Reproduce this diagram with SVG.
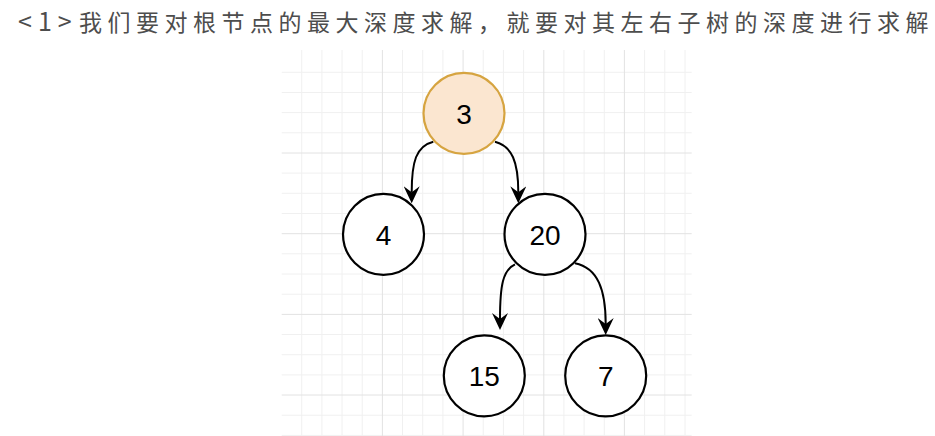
<svg xmlns="http://www.w3.org/2000/svg" width="935" height="436" viewBox="0 0 935 436">
<style>
.title{font-family:"Noto Sans CJK SC","Noto Sans",sans-serif;font-size:23px;fill:#4d4d4d;letter-spacing:5.5px}
.minor{stroke:#f0f0f0;stroke-width:1;fill:none}
.major{stroke:#e2e2e2;stroke-width:1;fill:none}
.node circle{fill:#fff;stroke:#000;stroke-width:2.2}
.node text{font-family:"Liberation Sans",Arial,sans-serif;font-size:28px;fill:#000;text-anchor:middle;dominant-baseline:central}
#n3 circle{fill:#fbe6d0;stroke:#d6a440}
.edge{fill:none;stroke:#000;stroke-width:2}
</style>
<defs>
<marker id="arr" viewBox="0 0 17 16" refX="6" refY="8" markerWidth="17" markerHeight="16" markerUnits="userSpaceOnUse" orient="auto">
<path d="M0,0 L17,8 L0,16 L6,8 Z" fill="#000"/>
</marker>
</defs>
<rect width="935" height="436" fill="#fff"/>
<text class="title" y="31"><tspan x="18" style="font-size:25px;letter-spacing:6px">&lt;1&gt;</tspan><tspan x="79">我们要对根节点的最大深度求解，就要对其左右子树的深度进行求解</tspan></text>
<g id="grid">
<path class="minor" d="M301.7,50V436M321.9,50V436M342,50V436M362.2,50V436M402.5,50V436M422.7,50V436M442.9,50V436M483.2,50V436M503.4,50V436M523.6,50V436M563.9,50V436M584.1,50V436M604.3,50V436M644.6,50V436M664.8,50V436M685,50V436M281.7,72.3H691.7M281.7,92.5H691.7M281.7,112.6H691.7M281.7,132.8H691.7M281.7,173.1H691.7M281.7,193.3H691.7M281.7,213.5H691.7M281.7,253.8H691.7M281.7,274H691.7M281.7,294.2H691.7M281.7,334.5H691.7M281.7,354.7H691.7M281.7,374.9H691.7M281.7,415.2H691.7M281.7,435.4H691.7"/>
<path class="major" d="M382.4,50V436M463.1,50V436M543.8,50V436M624.4,50V436M281.7,153H691.7M281.7,233.7H691.7M281.7,314.4H691.7M281.7,395H691.7"/>
</g>
<g id="edges">
<path class="edge" marker-end="url(#arr)" d="M433.3,141.7 C416,146 411.7,162 411.7,192.3"/>
<path class="edge" marker-end="url(#arr)" d="M495,141.7 C512,146 518.3,162 518.3,192.3"/>
<path class="edge" marker-end="url(#arr)" d="M515,264.3 C503,270 500,285 500,319"/>
<path class="edge" marker-end="url(#arr)" d="M575,263.3 C598,268 605.7,290 605.7,324"/>
</g>
<g id="n3" class="node"><circle cx="464" cy="113.3" r="40.5"/><text x="464" y="114">3</text></g>
<g id="n4" class="node"><circle cx="383.5" cy="234.3" r="40.5"/><text x="383.5" y="235">4</text></g>
<g id="n20" class="node"><circle cx="545" cy="234.3" r="40.5"/><text x="545" y="235">20</text></g>
<g id="n15" class="node"><circle cx="484.3" cy="375.8" r="40.5"/><text x="484.3" y="376.5">15</text></g>
<g id="n7" class="node"><circle cx="605.7" cy="375.8" r="40.5"/><text x="605.7" y="376.5">7</text></g>
</svg>
